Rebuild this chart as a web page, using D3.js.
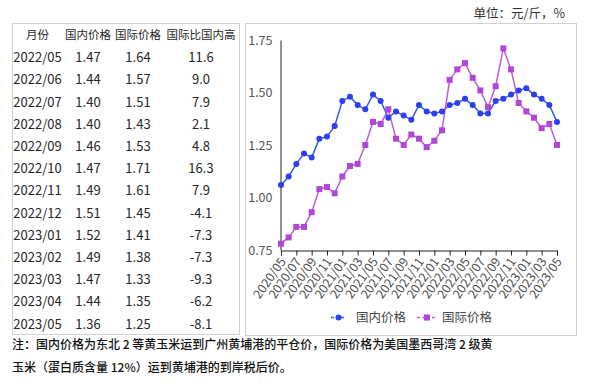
<!DOCTYPE html>
<html><head><meta charset="utf-8">
<script src="https://cdn.jsdelivr.net/npm/d3@7"></script>
<style>
html,body{margin:0;padding:0;background:#fff;}
svg{display:block;}
</style></head>
<body>
<svg id="c" width="598" height="384"></svg>
<script>
// ---- data ----
const months = ["2020/05","2020/06","2020/07","2020/08","2020/09","2020/10","2020/11","2020/12",
"2021/01","2021/02","2021/03","2021/04","2021/05","2021/06","2021/07","2021/08","2021/09","2021/10","2021/11","2021/12",
"2022/01","2022/02","2022/03","2022/04","2022/05","2022/06","2022/07","2022/08","2022/09","2022/10","2022/11","2022/12",
"2023/01","2023/02","2023/03","2023/04","2023/05"];
const domestic = [1.06,1.10,1.16,1.21,1.19,1.28,1.29,1.34,1.46,1.48,1.44,1.42,1.49,1.46,1.38,1.41,1.39,1.37,1.44,1.41,
1.40,1.41,1.44,1.45,1.47,1.44,1.40,1.40,1.46,1.47,1.49,1.51,1.52,1.49,1.47,1.44,1.36];
const international = [0.78,0.81,0.86,0.86,0.93,1.04,1.05,1.02,1.10,1.15,1.16,1.25,1.36,1.35,1.42,1.28,1.25,1.30,1.28,1.24,
1.27,1.32,1.56,1.61,1.64,1.57,1.51,1.43,1.53,1.71,1.61,1.45,1.41,1.38,1.33,1.35,1.25];
const tickLabels = ["2020/05","2020/07","2020/09","2020/11","2021/01","2021/03","2021/05","2021/07","2021/09","2021/11",
"2022/01","2022/03","2022/05","2022/07","2022/09","2022/11","2023/01","2023/03","2023/05"];
const yTicks = [0.75,1.00,1.25,1.50,1.75];
const seriesNames = ["国内价格","国际价格"];
const tableHeader = ["月份","国内价格","国际价格","国际比国内高"];
const tableMonths = ["2022/05","2022/06","2022/07","2022/08","2022/09","2022/10","2022/11","2022/12","2023/01","2023/02","2023/03","2023/04","2023/05"];
const tableDomestic = ["1.47","1.44","1.40","1.40","1.46","1.47","1.49","1.51","1.52","1.49","1.47","1.44","1.36"];
const tableIntl = ["1.64","1.57","1.51","1.43","1.53","1.71","1.61","1.45","1.41","1.38","1.33","1.35","1.25"];
const tableDiff = ["11.6","9.0","7.9","2.1","4.8","16.3","7.9","-4.1","-7.3","-7.3","-9.3","-6.2","-8.1"];
const unitText = "单位：元/斤，%";
const noteLines = ["注：国内价格为东北 2 等黄玉米运到广州黄埔港的平仓价，国际价格为美国墨西哥湾 2 级黄",
"玉米（蛋白质含量 12%）运到黄埔港的到岸税后价。"];

// ---- drawing ----
const svg = d3.select("#c");
const FONT = "'Noto Sans CJK SC','Microsoft YaHei',sans-serif";
const BLUE = "#2a3ff0", BLUE_LINE = "#3a56f0";
const PURPLE = "#b246d6", PURPLE_LINE = "#bb5ddc";

// boxes
svg.append("rect").attr("x",12.5).attr("y",23.5).attr("width",227).attr("height",311)
  .attr("fill","none").attr("stroke","#d0d0d0");
svg.append("rect").attr("x",245.5).attr("y",23.5).attr("width",331).attr("height",312)
  .attr("fill","none").attr("stroke","#d0d0d0");

// table
const colX = [37.5, 88, 138, 201];
const tbl = svg.append("g").attr("font-family",FONT).attr("fill","#262626");
tbl.selectAll("text.h").data(tableHeader).join("text").attr("class","h")
  .attr("x",(d,i)=>colX[i]).attr("y",35).attr("dy","0.35em").attr("text-anchor","middle")
  .attr("font-size",11.5).text(d=>d);
const rowY = d3.scaleLinear().domain([0,12]).range([57.7,324]);
const rows = tableMonths.map((m,i)=>[m,tableDomestic[i],tableIntl[i],tableDiff[i]]);
rows.forEach((r,ri)=>{
  tbl.selectAll(null).data(r).join("text")
    .attr("x",(d,i)=>colX[i]).attr("y",rowY(ri)).attr("dy","0.35em").attr("text-anchor","middle")
    .attr("font-size",13).text(d=>d);
});

// unit
svg.append("text").attr("x",565).attr("y",14).attr("dy","0.35em").attr("text-anchor","end")
  .attr("font-family",FONT).attr("font-size",12.5).attr("fill","#333").text(unitText);

// chart scales
const x = d3.scalePoint().domain(months).range([281,557]);
const y = d3.scaleLinear().domain([0.75,1.75]).range([250,40]);

// y axis
const yAxis = svg.append("g").attr("transform","translate(280.5,0)")
  .call(d3.axisLeft(y).tickValues(yTicks).tickFormat(d3.format(".2f")).tickSize(0).tickPadding(8));
yAxis.select(".domain").attr("stroke","#222");
yAxis.selectAll("text").attr("font-family",FONT).attr("font-size",12.5).attr("fill","#555");

// x axis
const xAxis = svg.append("g").attr("transform","translate(0,250.5)")
  .call(d3.axisBottom(x).tickValues(tickLabels).tickSizeOuter(0).tickSize(5));
xAxis.select(".domain").attr("stroke","#222");
xAxis.selectAll(".tick line").attr("stroke","#222");
xAxis.selectAll("text").attr("font-family",FONT).attr("font-size",12.5).attr("fill","#505050")
  .attr("text-anchor","end").attr("dy",0).attr("y",0)
  .attr("transform","translate(5,11) rotate(-55)");

// lines
const line = d3.line().x((d,i)=>x(months[i])).y(d=>y(d));
svg.append("path").datum(domestic).attr("d",line).attr("fill","none").attr("stroke",BLUE_LINE).attr("stroke-width",1.5);
svg.append("path").datum(international).attr("d",line).attr("fill","none").attr("stroke",PURPLE_LINE).attr("stroke-width",1.5);
svg.selectAll("circle.d").data(domestic).join("circle").attr("class","d")
  .attr("cx",(d,i)=>x(months[i])).attr("cy",d=>y(d)).attr("r",3).attr("fill",BLUE);
svg.selectAll("rect.p").data(international).join("rect").attr("class","p")
  .attr("x",(d,i)=>x(months[i])-3).attr("y",d=>y(d)-3).attr("width",6).attr("height",6).attr("fill",PURPLE);

// legend
const lg = svg.append("g").attr("font-family",FONT).attr("font-size",12.5).attr("fill","#444");
lg.append("line").attr("x1",331).attr("x2",346).attr("y1",317.5).attr("y2",317.5).attr("stroke",BLUE_LINE).attr("stroke-width",1.5).attr("stroke-dasharray","3,2");
lg.append("circle").attr("cx",338.5).attr("cy",317.5).attr("r",3).attr("fill",BLUE);
lg.append("text").attr("x",356).attr("y",317.5).attr("dy","0.35em").text(seriesNames[0]);
lg.append("line").attr("x1",417).attr("x2",437).attr("y1",317.5).attr("y2",317.5).attr("stroke",PURPLE_LINE).attr("stroke-width",1.5).attr("stroke-dasharray","3,2");
lg.append("rect").attr("x",424).attr("y",314.5).attr("width",6).attr("height",6).attr("fill",PURPLE);
lg.append("text").attr("x",442).attr("y",317.5).attr("dy","0.35em").text(seriesNames[1]);

// note
svg.selectAll("text.note").data(noteLines).join("text").attr("class","note")
  .attr("x",12).attr("y",(d,i)=>345+i*23).attr("dy","0.35em")
  .attr("font-family",FONT).attr("font-size",12).attr("font-weight",500).attr("fill","#111")
  .text(d=>d);
</script>
</body></html>
